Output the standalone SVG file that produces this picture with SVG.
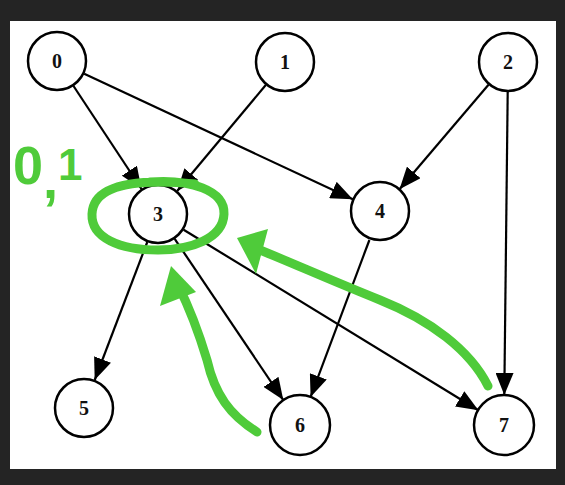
<svg xmlns="http://www.w3.org/2000/svg" width="565" height="485" viewBox="0 0 565 485">
<defs>
<marker id="ah" viewBox="0 0 22 18" refX="22" refY="9" markerWidth="22" markerHeight="18" markerUnits="userSpaceOnUse" orient="auto">
<path d="M0,0 L22,9 L0,18 Z" fill="#000"/>
</marker>
</defs>
<style>
.node circle{fill:#fff;stroke:#000;stroke-width:2.5}
.node text{font-family:"Liberation Serif",serif;font-weight:bold;font-size:20px;text-anchor:middle;dominant-baseline:central;fill:#111}
.edges line{stroke:#000;stroke-width:2.2;marker-end:url(#ah)}
.green{fill:none;stroke:#4fcb3a;stroke-width:9;stroke-linecap:round;stroke-linejoin:round}
.gfill{fill:#4fcb3a}
</style>
<rect width="565" height="485" fill="#242424"/>
<rect x="10" y="21" width="546" height="448" fill="#fff"/>
<g class="edges">
<line x1="73.5" y1="86" x2="141.5" y2="189"/>
<line x1="84.2" y1="73.7" x2="352.8" y2="199.3"/>
<line x1="265.8" y1="85" x2="177.2" y2="191"/>
<line x1="488.5" y1="84.8" x2="399.5" y2="189.2"/>
<line x1="507.7" y1="92" x2="504.3" y2="395"/>
<line x1="147.3" y1="242" x2="94.7" y2="380"/>
<line x1="174.7" y1="238.9" x2="283.3" y2="400.1"/>
<line x1="183.6" y1="229.7" x2="478.4" y2="410.3"/>
<line x1="369.4" y1="240" x2="310.6" y2="396.9"/>
</g>
<g id="n0" class="node"><circle cx="57" cy="61" r="29"/><text x="57" y="61">0</text></g>
<g id="n1" class="node"><circle cx="285" cy="62" r="29"/><text x="285" y="62">1</text></g>
<g id="n2" class="node"><circle cx="508" cy="62" r="29"/><text x="508" y="62">2</text></g>
<g id="n3" class="node"><circle cx="158" cy="214" r="29"/><text x="158" y="214">3</text></g>
<g id="n4" class="node"><circle cx="380" cy="211" r="29"/><text x="380" y="211">4</text></g>
<g id="n5" class="node"><circle cx="84" cy="408" r="29"/><text x="84" y="408">5</text></g>
<g id="n6" class="node"><circle cx="300" cy="425" r="30"/><text x="300" y="425">6</text></g>
<g id="n7" class="node"><circle cx="504" cy="425" r="30"/><text x="504" y="425">7</text></g>
<g id="annotations">
<text x="13" y="184" font-family="Liberation Sans, sans-serif" font-weight="bold" font-size="54" fill="#4fcb3a"><tspan>0</tspan><tspan dy="14">,</tspan><tspan dy="-18" font-size="44">1</tspan></text>
<path class="green" d="M150,182 C190,179 225,190 224,214 C223,239 190,250 158,250 C120,250 91,238 92,214 C93,191 120,182 160,182 C175,182 185,183 195,184"/>
<path class="green" d="M488,386 C470,350 430,320 380,300 C330,280 290,262 255,248"/>
<path class="gfill" d="M237,238 L268,229 L256,274 Z"/>
<path class="green" d="M257,432 C230,415 215,395 207,360 C198,330 188,305 178,285"/>
<path class="gfill" d="M171,266 L196,292 L160,306 Z"/>
</g>
</svg>
